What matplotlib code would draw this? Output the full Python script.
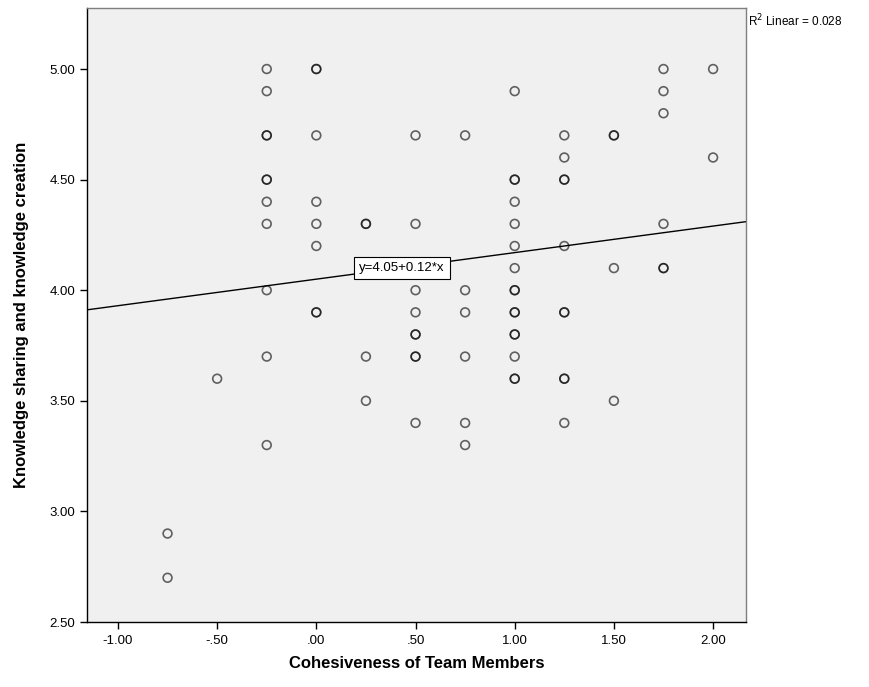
import matplotlib
matplotlib.use("Agg")
import matplotlib.pyplot as plt
import numpy as np

plt.rcParams['font.family'] = ['Liberation Sans', 'DejaVu Sans']

# Data: (cohesiveness, knowledge sharing); duplicates repeated
x_vals = [-0.75, -0.75,
          -0.5,
          -0.25, -0.25, -0.25, -0.25, -0.25, -0.25, -0.25, -0.25, -0.25, -0.25, -0.25,
          0.0, 0.0, 0.0, 0.0, 0.0, 0.0, 0.0, 0.0,
          0.25, 0.25, 0.25, 0.25,
          0.5, 0.5, 0.5, 0.5, 0.5, 0.5, 0.5, 0.5, 0.5,
          0.75, 0.75, 0.75, 0.75, 0.75, 0.75,
          1.0, 1.0, 1.0, 1.0, 1.0, 1.0, 1.0, 1.0, 1.0, 1.0, 1.0, 1.0, 1.0, 1.0, 1.0, 1.0,
          1.25, 1.25, 1.25, 1.25, 1.25, 1.25, 1.25, 1.25, 1.25, 1.25,
          1.5, 1.5, 1.5, 1.5,
          1.75, 1.75, 1.75, 1.75, 1.75, 1.75,
          2.0, 2.0]
y_vals = [2.9, 2.7,
          3.6,
          5.0, 4.9, 4.7, 4.7, 4.5, 4.5, 4.4, 4.3, 4.0, 3.7, 3.3,
          5.0, 5.0, 4.7, 4.4, 4.3, 4.2, 3.9, 3.9,
          4.3, 4.3, 3.7, 3.5,
          4.7, 4.3, 4.0, 3.9, 3.8, 3.8, 3.7, 3.7, 3.4,
          4.7, 4.0, 3.9, 3.7, 3.4, 3.3,
          4.9, 4.5, 4.5, 4.4, 4.3, 4.2, 4.1, 4.0, 4.0, 3.9, 3.9, 3.8, 3.8, 3.7, 3.6, 3.6,
          4.7, 4.6, 4.5, 4.5, 4.2, 3.9, 3.9, 3.6, 3.6, 3.4,
          4.7, 4.7, 4.1, 3.5,
          5.0, 4.9, 4.8, 4.3, 4.1, 4.1,
          5.0, 4.6]

intercept = 4.05
slope = 0.12
r_squared = 0.028

x_ticks = [-1.0, -0.5, 0.0, 0.5, 1.0, 1.5, 2.0]
x_ticklabels = ['-1.00', '-.50', '.00', '.50', '1.00', '1.50', '2.00']
y_ticks = [2.5, 3.0, 3.5, 4.0, 4.5, 5.0]
y_ticklabels = ['2.50', '3.00', '3.50', '4.00', '4.50', '5.00']

fig = plt.figure(figsize=(8.7, 6.87), dpi=100)
ax = fig.add_axes([0.1, 0.0946, 0.7575, 0.8938])
ax.set_facecolor('#F0F0F0')

xlim = (-1.156, 2.166)
ylim = (2.5, 5.276)
ax.set_xlim(*xlim)
ax.set_ylim(*ylim)

ax.scatter(x_vals, y_vals, s=40, facecolors='none', edgecolors=(0, 0, 0, 0.6),
           linewidths=1.2, zorder=3)

lx = np.array(xlim)
ax.plot(lx, intercept + slope * lx, color='black', linewidth=1.0, zorder=2)

ax.text(0.43, 4.1, 'y=4.05+0.12*x', ha='center', va='center', fontsize=9.5,
        bbox=dict(boxstyle='square,pad=0.4', facecolor='white', edgecolor='black', linewidth=0.8),
        zorder=5)

fig.text(748 / 870, 1 - 21 / 687, 'R$^2$ Linear = 0.028', fontsize=8.5, ha='left', va='center')

ax.set_xticks(x_ticks)
ax.set_xticklabels(x_ticklabels)
ax.set_yticks(y_ticks)
ax.set_yticklabels(y_ticklabels)
ax.tick_params(axis='both', direction='out', length=5, width=1, labelsize=9.5, color='black')
ax.tick_params(axis='x', pad=4)

for s in ['left', 'bottom']:
    ax.spines[s].set_color('black')
    ax.spines[s].set_linewidth(1.0)
for s in ['top', 'right']:
    ax.spines[s].set_color('#7F7F7F')
    ax.spines[s].set_linewidth(1.0)

ax.set_xlabel('Cohesiveness of Team Members', fontsize=12, fontweight='bold', labelpad=7)
ax.set_ylabel('Knowledge sharing and knowledge creation', fontsize=12, fontweight='bold', labelpad=15)

fig.savefig('out.png', dpi=100)
